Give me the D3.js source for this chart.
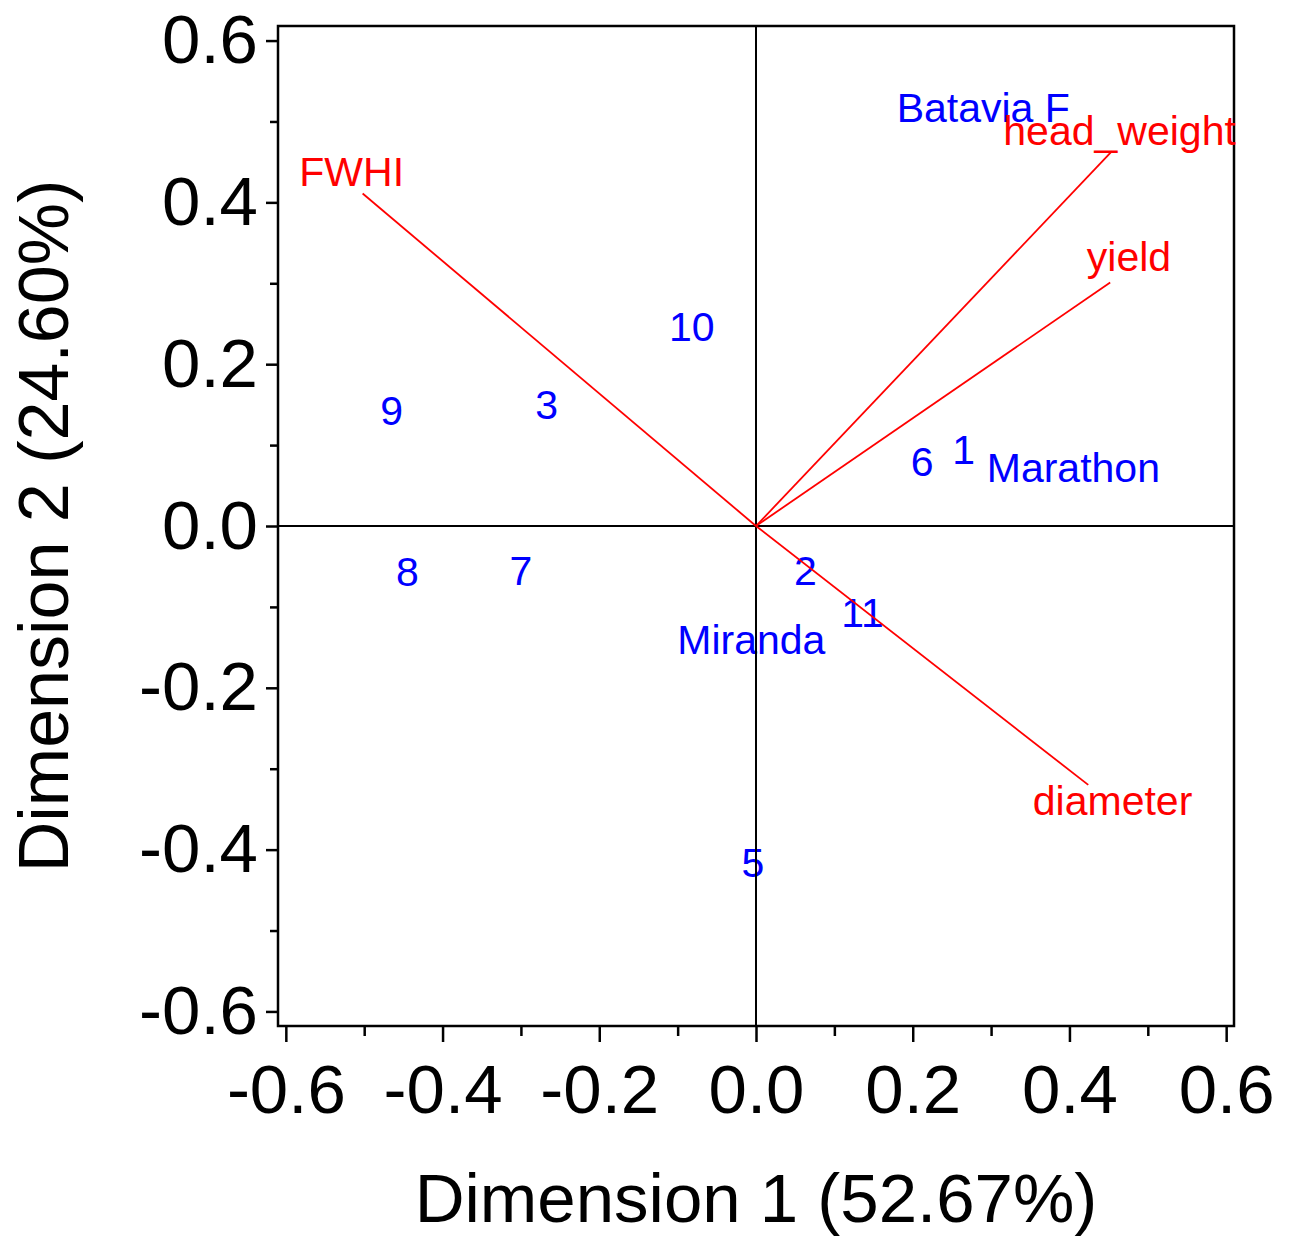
<!DOCTYPE html>
<html>
  <head>
    <meta charset="UTF-8" />
    <script src="https://cdnjs.cloudflare.com/ajax/libs/d3/7.8.5/d3.min.js"></script>
    <style>
      body {
        margin: 0;
        background: #fff;
      }
      text {
        font-family: "Liberation Sans", Arial, sans-serif;
      }
    </style>
  </head>
  <body>
    <div id="viz"><svg width="1293" height="1239"></svg></div>
    <script>
      // observations (blue labels), position of label centre
      let obsLabels = ["Batavia F", "10", "9", "3", "6", "1", "Marathon", "8", "7", "2", "11", "Miranda", "5"];
      let obsX = [0.290, -0.082, -0.465, -0.267, 0.212, 0.265, 0.405, -0.445, -0.300, 0.063, 0.136, -0.006, -0.004];
      let obsY = [0.517, 0.247, 0.143, 0.150, 0.080, 0.095, 0.073, -0.056, -0.055, -0.055, -0.106, -0.140, -0.416];

      // variable vectors (red)
      let varNames = ["FWHI", "head_weight", "yield", "diameter"];
      let varX = [-0.502, 0.454, 0.452, 0.424];
      let varY = [0.411, 0.463, 0.301, -0.320];
      let varLabelX = [-0.516, 0.464, 0.476, 0.455];
      let varLabelY = [0.438, 0.489, 0.334, -0.339];

      let majorTicks = [-0.6, -0.4, -0.2, 0.0, 0.2, 0.4, 0.6];
      let minorTicks = [-0.5, -0.3, -0.1, 0.1, 0.3, 0.5];

      let xTitle = "Dimension 1 (52.67%)";
      let yTitle = "Dimension 2 (24.60%)";

      let margin = { left: 278, top: 26 };
      let width = 956, height = 1000;

      let xScale = d3.scaleLinear().domain([-0.61, 0.61]).range([0, width]);
      let yScale = d3.scaleLinear().domain([-0.618, 0.618]).range([height, 0]);

      let svg = d3.select("svg");
      let g = svg.append("g").attr("transform", `translate(${margin.left},${margin.top})`);

      let fmt = d => d.toFixed(1);

      // axes
      g.append("g")
        .attr("transform", `translate(0,${height})`)
        .call(d3.axisBottom(xScale).tickValues(majorTicks).tickSize(16).tickPadding(22).tickFormat(fmt));
      g.append("g")
        .attr("transform", `translate(0,${height})`)
        .call(d3.axisBottom(xScale).tickValues(minorTicks).tickSize(10).tickFormat(""));
      g.append("g")
        .call(d3.axisLeft(yScale).tickValues(majorTicks).tickSize(12).tickPadding(8).tickFormat(fmt));
      g.append("g")
        .call(d3.axisLeft(yScale).tickValues(minorTicks).tickSize(8).tickFormat(""));

      g.selectAll(".domain").remove();
      g.selectAll(".tick line").attr("stroke", "#000").attr("stroke-width", 2.5);
      g.selectAll(".tick text")
        .attr("fill", "#000")
        .style("font-size", "69px");

      // observation labels
      g.selectAll("text.obs")
        .data(obsLabels)
        .enter()
        .append("text")
        .attr("class", "obs")
        .attr("x", (d, i) => xScale(obsX[i]))
        .attr("y", (d, i) => yScale(obsY[i]))
        .attr("dy", "0.36em")
        .attr("text-anchor", "middle")
        .attr("fill", "#0000ff")
        .style("font-size", "41px")
        .text(d => d);

      // reference lines at zero
      g.append("line")
        .attr("x1", xScale(0)).attr("x2", xScale(0))
        .attr("y1", 0).attr("y2", height)
        .attr("stroke", "#000").attr("stroke-width", 2);
      g.append("line")
        .attr("x1", 0).attr("x2", width)
        .attr("y1", yScale(0)).attr("y2", yScale(0))
        .attr("stroke", "#000").attr("stroke-width", 2);

      // frame
      g.append("rect")
        .attr("width", width).attr("height", height)
        .attr("fill", "none").attr("stroke", "#000").attr("stroke-width", 2.5);

      // vectors
      g.selectAll("line.vec")
        .data(varNames)
        .enter()
        .append("line")
        .attr("class", "vec")
        .attr("x1", xScale(0)).attr("y1", yScale(0))
        .attr("x2", (d, i) => xScale(varX[i]))
        .attr("y2", (d, i) => yScale(varY[i]))
        .attr("stroke", "#ff0000")
        .attr("stroke-width", 1.8);

      g.selectAll("text.var")
        .data(varNames)
        .enter()
        .append("text")
        .attr("class", "var")
        .attr("x", (d, i) => xScale(varLabelX[i]))
        .attr("y", (d, i) => yScale(varLabelY[i]))
        .attr("dy", "0.36em")
        .attr("text-anchor", "middle")
        .attr("fill", "#ff0000")
        .style("font-size", "41px")
        .text(d => d);

      // axis titles
      svg.append("text")
        .attr("x", margin.left + xScale(0))
        .attr("y", 1222)
        .attr("text-anchor", "middle")
        .style("font-size", "69px")
        .text(xTitle);
      svg.append("text")
        .attr("transform", `translate(68,${margin.top + yScale(0)}) rotate(-90)`)
        .attr("text-anchor", "middle")
        .style("font-size", "70px")
        .text(yTitle);
    </script>
  </body>
</html>
